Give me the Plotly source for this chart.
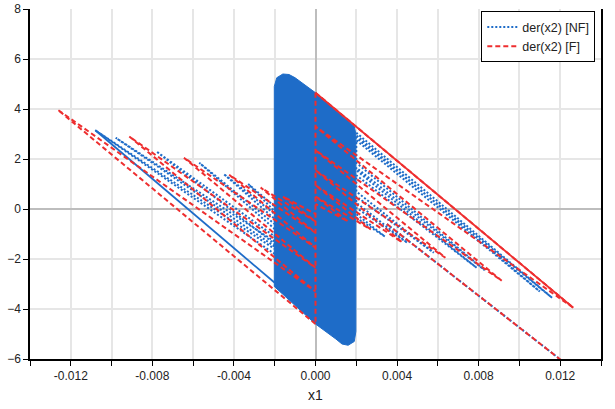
import plotly.graph_objects as go

# ---------------- data ----------------
# F trace (red dashed): right-hand spiral, sticking line at x1=0, left-hand spiral, final drift line
f_right_x = [0.0, 0.01264, 0.0, 0.00913, 0.0, 0.00637, 0.0, 0.00425, 0.0, 0.00271, 0.0, 0.0016, 0.0]
f_right_y = [4.65, -3.95, 3.3, -2.87, 2.35, -1.95, 1.55, -1.33, 0.95, -0.82, 0.5, -0.5, 0.2]
f_stick_x = [0.0, 0.0]
f_stick_y = [4.65, -4.6]
f_left_x = [0.0, -0.01264, 0.0, -0.00913, 0.0, -0.00645, 0.0, -0.00423, 0.0, -0.00269, 0.0, -0.0016, 0.0]
f_left_y = [-4.6, 3.97, -3.3, 2.9, -2.35, 2.05, -1.55, 1.37, -0.95, 0.86, -0.5, 0.5, -0.2]
f_drift_x = [0.0035, 0.0126]
f_drift_y = [-0.6, -6.4]
f_outer_x = [0.0, 0.01264]          # overdrawn (looks solid) outer edge
f_outer_y = [4.65, -3.95]

# NF trace (blue dotted): dense chattering band, right loops, left loops, drift line
nf_band_x = [-0.00202, -0.00202, -0.0019, -0.0016, -0.0013, -0.001, 0.0, 0.0019, 0.00198,
             0.00198, 0.0019, 0.0016, 0.0013, 0.001, 0.0, -0.00202]
nf_band_y = [-3.1, 4.9, 5.25, 5.4, 5.38, 5.25, 4.65, 3.3, 3.0,
             -4.9, -5.3, -5.45, -5.4, -5.2, -4.6, -3.1]
nf_right_x = [0.002, 0.0116, 0.002, 0.002, 0.0110, 0.002, 0.002, 0.0083, 0.002,
              0.002, 0.0079, 0.002, 0.002, 0.0058, 0.002, 0.002, 0.0045, 0.002, 0.002, 0.0034, 0.002]
nf_right_y = [3.05, -3.55, 2.85, 2.95, -3.3, 2.75, 1.85, -2.45, 1.65,
              1.55, -2.35, 1.35, 0.7, -1.75, 0.5, 0.25, -1.35, 0.05, -0.2, -1.1, -0.35]
nf_left_x = [-0.002, -0.0108, -0.002, -0.002, -0.0098, -0.002, -0.002, -0.0078, -0.002,
             -0.002, -0.0057, -0.002, -0.002, -0.0045, -0.002, -0.002, -0.0033, -0.002]
nf_left_y = [-1.8, 3.15, -1.6, -1.5, 2.85, -1.3, -1.4, 2.3, -1.1,
             -0.8, 1.85, -0.6, -0.4, 1.4, -0.2, -0.1, 1.0, 0.1]
nf_solid_x = [-0.0108, -0.002]      # overdrawn (looks solid) edge
nf_solid_y = [3.15, -2.95]
nf_drift_x = [0.0035, 0.0126]
nf_drift_y = [-0.6, -6.4]

BLUE = "rgb(30,108,200)"
RED = "rgb(238,46,47)"

fig = go.Figure()

def seg(xs, ys, color, dash, name=None, show=False, width=2.0):
    fig.add_trace(go.Scatter(x=xs, y=ys, mode="lines", name=name, showlegend=show,
                             line=dict(color=color, dash=dash, width=width), hoverinfo="skip"))

# NF (blue)
fig.add_trace(go.Scatter(x=nf_band_x, y=nf_band_y, mode="lines", fill="toself",
                         fillcolor=BLUE, line=dict(color=BLUE, width=1), showlegend=False,
                         hoverinfo="skip"))
seg(nf_right_x, nf_right_y, BLUE, "2px,2px")
seg(nf_left_x, nf_left_y, BLUE, "2px,2px")
seg(nf_solid_x, nf_solid_y, BLUE, "solid", width=1.8)
seg(nf_drift_x, nf_drift_y, BLUE, "2px,2px")
# F (red)
seg(f_right_x, f_right_y, RED, "5px,3px")
seg(f_left_x, f_left_y, RED, "5px,3px")
seg(f_stick_x, f_stick_y, RED, "5px,3px")
seg(f_outer_x, f_outer_y, RED, "solid", width=1.8)
seg(f_drift_x, f_drift_y, RED, "5px,3px")

# legend entries
fig.add_trace(go.Scatter(x=[None], y=[None], mode="lines", name="der(x2) [NF]",
                         line=dict(color=BLUE, dash="2px,2px", width=2)))
fig.add_trace(go.Scatter(x=[None], y=[None], mode="lines", name="der(x2) [F]",
                         line=dict(color=RED, dash="5px,3px", width=2)))

GRID = "#e6e6e6"
fig.update_layout(
    width=615, height=409,
    margin=dict(l=30, r=14, t=9, b=50, autoexpand=False),
    paper_bgcolor="white", plot_bgcolor="white",
    font=dict(family="Liberation Sans, Arial, sans-serif", size=12, color="#222"),
    showlegend=True,
    legend=dict(x=0.99, y=0.993, xanchor="right", yanchor="top",
                bordercolor="black", borderwidth=1, bgcolor="white",
                font=dict(size=12.5), tracegroupgap=0),
    xaxis=dict(range=[-0.014, 0.014], tickvals=[-0.012, -0.008, -0.004, 0.0, 0.004, 0.008, 0.012],
               ticktext=["-0.012", "-0.008", "-0.004", "0.000", "0.004", "0.008", "0.012"],
               ticks="outside", ticklen=5, tickcolor="black", automargin=False,
               showline=True, linecolor="black", linewidth=1.5,
               showgrid=True, gridcolor=GRID, gridwidth=1.5,
               zeroline=True, zerolinecolor="#bdbdbd", zerolinewidth=1.5,
               minor=dict(dtick=0.002, tick0=0, ticks="outside", ticklen=5, tickcolor="black",
                          showgrid=True, gridcolor=GRID, gridwidth=1.5),
               title=dict(text="x1", standoff=8)),
    yaxis=dict(range=[-6, 8], dtick=2, ticks="outside", ticklen=5, tickcolor="black",
               automargin=False,
               showline=True, linecolor="black", linewidth=1.5, mirror=True,
               showgrid=True, gridcolor=GRID, gridwidth=1.5,
               zeroline=True, zerolinecolor="#bdbdbd", zerolinewidth=1.5),
)
fig.write_html("out.html", config={"displayModeBar": False},
               post_script="document.body.style.margin='0';")
